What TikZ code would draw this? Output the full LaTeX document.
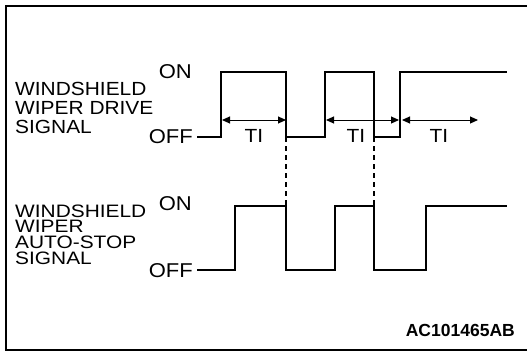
\documentclass[tikz,border=0pt]{standalone}
\usepackage{fontspec}
\setmainfont{Liberation Sans}[FakeStretch=1.1]
\newfontfamily\widesans{Liberation Sans}[FakeStretch=1.16]
\newfontfamily\plainsans{Liberation Sans}
\usetikzlibrary{arrows.meta}
\begin{document}
\begin{tikzpicture}[x=1pt,y=-1pt,
  lbl/.style={anchor=base west,inner sep=0pt,text height=13.5pt,text depth=0pt,font=\fontsize{19}{19}\selectfont},
  lblb/.style={anchor=base west,inner sep=0pt,text height=12.5pt,text depth=0pt,font=\widesans\fontsize{18}{18}\selectfont},
  lvl/.style={anchor=base east,inner sep=0pt,text height=14pt,text depth=0pt,font=\fontsize{20}{20}\selectfont},
  ti/.style={anchor=base,inner sep=0pt,text height=13.5pt,text depth=0pt,font=\fontsize{19}{19}\selectfont},
  sigtop/.style={line width=2.2pt,line join=miter},
  sigbot/.style={line width=1.7pt,line join=miter},
  dim/.style={line width=1pt,{Triangle[length=8pt,width=7pt]}-{Triangle[length=8pt,width=7pt]}},
  dsh/.style={line width=1.8pt,dash pattern=on 5pt off 4pt}]
\useasboundingbox (0,0) rectangle (527,351);
\draw[line width=1.6pt] (535,6) -- (6,6) -- (6,350) -- (535,350);
% top labels
\node[lbl] (a1) at (15,95) {WINDSHIELD};
\node[lbl] (a2) at (15,114) {WIPER DRIVE};
\node[lbl] (a3) at (15,133) {SIGNAL};
\node[lvl] (aon) at (192,78) {ON};
\node[lvl] (aoff) at (193,143) {OFF};
% bottom labels
\node[lblb] (b1) at (15,217) {WINDSHIELD};
\node[lblb] (b2) at (15,232.5) {WIPER};
\node[lblb] (b3) at (15,248) {AUTO-STOP};
\node[lblb] (b4) at (15,264) {SIGNAL};
\node[lvl] (bon) at (192,210) {ON};
\node[lvl] (boff) at (193,277) {OFF};
% top signal
\coordinate (t0) at (197,137);
\coordinate (r1) at (221,137); \coordinate (r1h) at (221,72);
\coordinate (f1h) at (286,72); \coordinate (f1) at (286,137);
\coordinate (r2) at (325,137); \coordinate (r2h) at (325,72);
\coordinate (f2h) at (374,72); \coordinate (f2) at (374,137);
\coordinate (r3) at (400,137); \coordinate (r3h) at (400,72);
\coordinate (tend) at (507,72);
\draw[sigtop] (t0) -- (r1) -- (r1h) -- (f1h) -- (f1) -- (r2) -- (r2h) -- (f2h) -- (f2) -- (r3) -- (r3h) -- (tend);
% bottom signal
\coordinate (u0) at (197,270);
\coordinate (s1) at (235,270); \coordinate (s1h) at (235,206);
\coordinate (g1h) at (286,206); \coordinate (g1) at (286,270);
\coordinate (s2) at (335,270); \coordinate (s2h) at (335,206);
\coordinate (g2h) at (374,206); \coordinate (g2) at (374,270);
\coordinate (s3) at (426,270); \coordinate (s3h) at (426,206);
\coordinate (uend) at (507,206);
\draw[sigbot] (u0) -- (s1) -- (s1h) -- (g1h) -- (g1) -- (s2) -- (s2h) -- (g2h) -- (g2) -- (s3) -- (s3h) -- (uend);
% dashed
\draw[dsh] (f1) -- (g1h);
\draw[dsh] (f2) -- (g2h);
% TI dimension arrows
\coordinate (d1a) at (222,120); \coordinate (d1b) at (286,120);
\coordinate (d2a) at (326,120); \coordinate (d2b) at (399,120);
\coordinate (d3a) at (402,120); \coordinate (d3b) at (478,120);
\draw[dim] (d1a) -- (d1b);
\draw[dim] (d2a) -- (d2b);
\draw[dim] (d3a) -- (d3b);
\node[ti] (ti1) at (254,142) {TI};
\node[ti] (ti2) at (356,142) {TI};
\node[ti] (ti3) at (439,142) {TI};
\node[anchor=base east,inner sep=0pt,font=\plainsans\fontsize{17.5}{17.5}\selectfont\bfseries] (code) at (515,336) {AC101465AB};
\end{tikzpicture}
\end{document}
